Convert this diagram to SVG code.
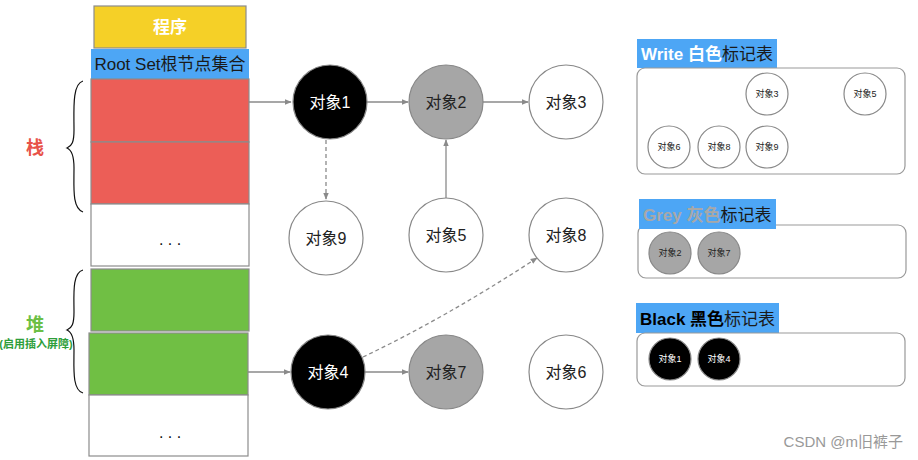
<svg xmlns="http://www.w3.org/2000/svg" width="918" height="460" viewBox="0 0 918 460">
<style>
text{font-family:"Liberation Sans","Noto Sans CJK SC",sans-serif;}
.box{stroke:#8c8c8c;stroke-width:1.2;}
.node{stroke:#888;stroke-width:1.2;}
.big{font-size:16px;text-anchor:middle;dominant-baseline:central;}
.small{font-size:9px;text-anchor:middle;dominant-baseline:central;}
.edge{stroke:#8a8a8a;stroke-width:1.3;fill:none;}
.dash{stroke-dasharray:4 3;}
.panel{fill:#fff;stroke:#999;stroke-width:1.2;}
.lbl{fill:#4da6f5;}
.brace{fill:none;stroke:#111;stroke-width:1.2;}
</style>
<defs>
<marker id="ah" viewBox="0 0 10 10" refX="9" refY="5" markerWidth="7" markerHeight="7" orient="auto" markerUnits="userSpaceOnUse">
<path d="M0,1 L10,5 L0,9 z" fill="#8a8a8a"/>
</marker>
</defs>
<rect width="918" height="460" fill="#fff"/>

<g id="stack-column">
<g id="program"><rect class="box" x="94" y="6" width="152" height="42" fill="#f5d027"/><text x="170" y="27" font-size="17" font-weight="bold" fill="#fff" text-anchor="middle" dominant-baseline="central">程序</text></g>
<g id="rootset"><rect x="91" y="49" width="158" height="30" fill="#4da6f5"/><text x="170" y="64.5" font-size="17" fill="#1a1a1a" text-anchor="middle" dominant-baseline="central">Root Set根节点集合</text></g>
<g id="stack1"><rect class="box" x="91" y="79" width="158" height="63" fill="#ec5e57"/></g>
<g id="stack2"><rect class="box" x="91" y="142" width="158" height="62" fill="#ec5e57"/></g>
<g id="stack3"><rect class="box" x="91" y="204" width="158" height="62" fill="#fff"/><text x="170" y="239" font-size="16" fill="#111" text-anchor="middle" dominant-baseline="central">. . .</text></g>
<g id="heap1"><rect class="box" x="91" y="269" width="158" height="62" fill="#70bf44"/></g>
<g id="heap2"><rect class="box" x="89" y="333" width="159" height="62" fill="#70bf44"/></g>
<g id="heap3"><rect class="box" x="89" y="395" width="159" height="61" fill="#fff"/><text x="170" y="432" font-size="16" fill="#111" text-anchor="middle" dominant-baseline="central">. . .</text></g>
</g>

<g id="stack-label">
<path class="brace" d="M83,81 C72,84 74,110 74,130 C74,142 72,146 67,148 C72,150 74,156 74,168 C74,188 72,208 83,212"/>
<text x="35" y="148" font-size="18" font-weight="bold" fill="#e8534a" text-anchor="middle" dominant-baseline="central">栈</text>
</g>
<g id="heap-label">
<path class="brace" d="M83,270 C72,273 74,295 74,312 C74,324 72,328 67,330 C72,332 74,338 74,350 C74,368 72,390 83,393"/>
<text x="35" y="325" font-size="18" font-weight="bold" fill="#6cbf45" text-anchor="middle" dominant-baseline="central">堆</text>
<text x="36" y="344" font-size="11" font-weight="bold" fill="#2e9e3a" text-anchor="middle" dominant-baseline="central">(启用插入屏障)</text>
</g>

<g id="connectors">
<line class="edge" x1="249" y1="102" x2="291" y2="102" marker-end="url(#ah)"/>
<line class="edge" x1="367" y1="102" x2="408" y2="102" marker-end="url(#ah)"/>
<line class="edge" x1="483" y1="102" x2="528" y2="102" marker-end="url(#ah)"/>
<line class="edge dash" x1="326" y1="140" x2="326" y2="199" marker-end="url(#ah)"/>
<line class="edge" x1="446" y1="198" x2="446" y2="140" marker-end="url(#ah)"/>
<path class="edge dash" d="M363,357 Q445,318 537,258" marker-end="url(#ah)"/>
<line class="edge" x1="248" y1="372" x2="290" y2="372" marker-end="url(#ah)"/>
<line class="edge" x1="365" y1="372" x2="408" y2="372" marker-end="url(#ah)"/>
</g>

<g id="obj1"><circle class="node" cx="330" cy="102" r="37" fill="#000"/><text class="big" x="330" y="102" fill="#fff">对象1</text></g>
<g id="obj2"><circle class="node" cx="446" cy="102" r="37" fill="#a6a6a6"/><text class="big" x="446" y="102" fill="#222">对象2</text></g>
<g id="obj3"><circle class="node" cx="566" cy="102" r="37" fill="#fff"/><text class="big" x="566" y="102" fill="#222">对象3</text></g>
<g id="obj9"><circle class="node" cx="326" cy="238" r="37" fill="#fff"/><text class="big" x="326" y="238" fill="#222">对象9</text></g>
<g id="obj5"><circle class="node" cx="446" cy="235" r="37" fill="#fff"/><text class="big" x="446" y="235" fill="#222">对象5</text></g>
<g id="obj8"><circle class="node" cx="566" cy="235" r="37" fill="#fff"/><text class="big" x="566" y="235" fill="#222">对象8</text></g>
<g id="obj4"><circle class="node" cx="328" cy="372" r="37" fill="#000"/><text class="big" x="328" y="372" fill="#fff">对象4</text></g>
<g id="obj7"><circle class="node" cx="446" cy="372" r="37" fill="#a6a6a6"/><text class="big" x="446" y="372" fill="#222">对象7</text></g>
<g id="obj6"><circle class="node" cx="566" cy="372" r="37" fill="#fff"/><text class="big" x="566" y="372" fill="#222">对象6</text></g>

<g id="white-table">
<rect class="lbl" x="637" y="39" width="140" height="29"/>
<text x="641" y="54" font-size="17" dominant-baseline="central"><tspan font-weight="bold" fill="#fff">Write 白色</tspan><tspan fill="#1a1a1a">标记表</tspan></text>
<rect class="panel" x="637" y="68" width="268" height="106" rx="8"/>
<circle class="node" cx="767" cy="94" r="21" fill="#fff"/><text class="small" x="767" y="94" fill="#222">对象3</text>
<circle class="node" cx="865" cy="94" r="21" fill="#fff"/><text class="small" x="865" y="94" fill="#222">对象5</text>
<circle class="node" cx="669" cy="147" r="21" fill="#fff"/><text class="small" x="669" y="147" fill="#222">对象6</text>
<circle class="node" cx="719" cy="147" r="21" fill="#fff"/><text class="small" x="719" y="147" fill="#222">对象8</text>
<circle class="node" cx="767" cy="147" r="21" fill="#fff"/><text class="small" x="767" y="147" fill="#222">对象9</text>
</g>

<g id="grey-table">
<rect class="panel" x="638" y="225" width="268" height="53" rx="8"/>
<rect class="lbl" x="639" y="199" width="137" height="30"/>
<text x="643" y="215" font-size="17" dominant-baseline="central"><tspan font-weight="bold" fill="#a8a8a8">Grey 灰色</tspan><tspan fill="#1a1a1a">标记表</tspan></text>
<circle class="node" cx="670" cy="253" r="21" fill="#a6a6a6"/><text class="small" x="670" y="253" fill="#222">对象2</text>
<circle class="node" cx="719" cy="253" r="21" fill="#a6a6a6"/><text class="small" x="719" y="253" fill="#222">对象7</text>
</g>

<g id="black-table">
<rect class="lbl" x="636" y="303" width="143" height="30"/>
<text x="640" y="319" font-size="17" dominant-baseline="central"><tspan font-weight="bold" fill="#000">Black 黑色</tspan><tspan fill="#1a1a1a">标记表</tspan></text>
<rect class="panel" x="637" y="333" width="268" height="53" rx="8"/>
<circle class="node" cx="670" cy="359" r="21" fill="#000"/><text class="small" x="670" y="359" fill="#fff">对象1</text>
<circle class="node" cx="719" cy="359" r="21" fill="#000"/><text class="small" x="719" y="359" fill="#fff">对象4</text>
</g>

<text x="903" y="441" font-size="15" fill="#999" text-anchor="end" dominant-baseline="central">CSDN @m旧裤子</text>
</svg>
